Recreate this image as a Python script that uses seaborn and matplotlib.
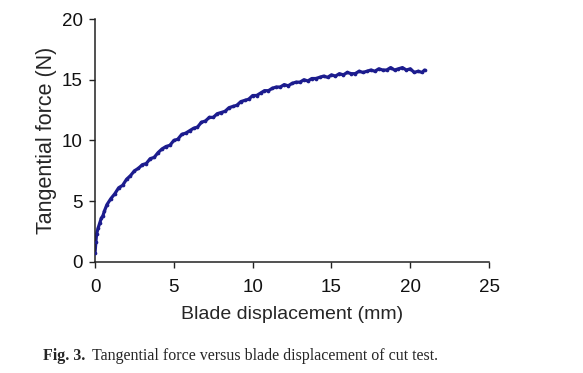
import matplotlib
matplotlib.use("Agg")
import matplotlib.pyplot as plt
import seaborn as sns
import pandas as pd

displacement_mm = [0, 0.05, 0.1, 0.2, 0.3, 0.4, 0.5, 0.6, 0.75,
                   1.0, 1.25, 1.5, 1.75, 2.0, 2.25, 2.5, 2.75, 3.0, 3.25, 3.5, 3.75,
                   4.0, 4.25, 4.5, 4.75, 5.0, 5.25, 5.5, 5.75, 6.0, 6.25, 6.5, 6.75,
                   7.0, 7.25, 7.5, 7.75, 8.0, 8.25, 8.5, 8.75, 9.0, 9.25, 9.5, 9.75,
                   10.0, 10.25, 10.5, 10.75, 11.0, 11.25, 11.5, 11.75, 12.0, 12.25,
                   12.5, 12.75, 13.0, 13.25, 13.5, 13.75, 14.0, 14.25, 14.5, 14.75,
                   15.0, 15.25, 15.5, 15.75, 16.0, 16.25, 16.5, 16.75, 17.0, 17.25,
                   17.5, 17.75, 18.0, 18.25, 18.5, 18.75, 19.0, 19.25, 19.5, 19.75,
                   20.0, 20.25, 20.5, 20.75, 20.9]
force_N = [0.7, 1.6, 2.3, 2.8, 3.2, 3.6, 3.8, 4.2, 4.7,
           5.2, 5.6, 6.1, 6.3, 6.8, 7.1, 7.5, 7.7, 8.0, 8.1, 8.5, 8.6,
           9.0, 9.3, 9.5, 9.6, 10.0, 10.1, 10.5, 10.6, 10.8, 11.0, 11.1, 11.5,
           11.6, 11.9, 11.9, 12.2, 12.3, 12.4, 12.7, 12.8, 12.9, 13.2, 13.3, 13.4,
           13.7, 13.7, 13.9, 14.1, 14.1, 14.3, 14.4, 14.4, 14.6, 14.5,
           14.7, 14.8, 14.8, 15.0, 14.9, 15.1, 15.1, 15.2, 15.3, 15.2,
           15.4, 15.3, 15.5, 15.4, 15.6, 15.5, 15.5, 15.7, 15.6, 15.7,
           15.8, 15.7, 15.9, 15.8, 15.8, 16.0, 15.8, 15.9, 16.0, 15.8,
           15.9, 15.6, 15.7, 15.6, 15.8]

x_ticks = [0, 5, 10, 15, 20, 25]
y_ticks = [0, 5, 10, 15, 20]

df = pd.DataFrame({"x": displacement_mm, "y": force_N})

sns.set_style("ticks")
plt.rcParams['font.family'] = ['Liberation Sans', 'DejaVu Sans']

fig = plt.figure(figsize=(5.83, 3.73), dpi=100)
ax = fig.add_axes([0.163, 0.298, 0.676, 0.651])

color = "#1c1c8e"
sns.lineplot(data=df, x="x", y="y", ax=ax, color=color, linewidth=2.3, sort=False)
sns.scatterplot(data=df, x="x", y="y", ax=ax, color=color, s=7, linewidth=0, zorder=3)

ax.set_xlim(0, 25)
ax.set_ylim(0, 20)
ax.set_xticks(x_ticks)
ax.set_yticks(y_ticks)
ax.tick_params(axis="both", labelsize=13.5, direction="out", length=4, width=1,
               colors="#222222", labelcolor="#111111")
ax.tick_params(axis="x", pad=8.5)
ax.tick_params(axis="y", pad=5)
for s in ["left", "bottom"]:
    ax.spines[s].set_linewidth(1.1)
    ax.spines[s].set_color("#222222")
sns.despine(ax=ax)
ax.set_xlabel("Blade displacement (mm)", fontsize=14, labelpad=7)
ax.set_ylabel("Tangential force (N)", fontsize=15.5, labelpad=3)

serif = ["Liberation Serif", "DejaVu Serif"]
fig.text(0.074, 0.035, "Fig. 3.", fontsize=11.5, fontweight="bold", family=serif, ha="left", va="baseline")
fig.text(0.157, 0.035, "Tangential force versus blade displacement of cut test.", fontsize=11.5,
         family=serif, ha="left", va="baseline")

fig.savefig("out.png", dpi=100)
